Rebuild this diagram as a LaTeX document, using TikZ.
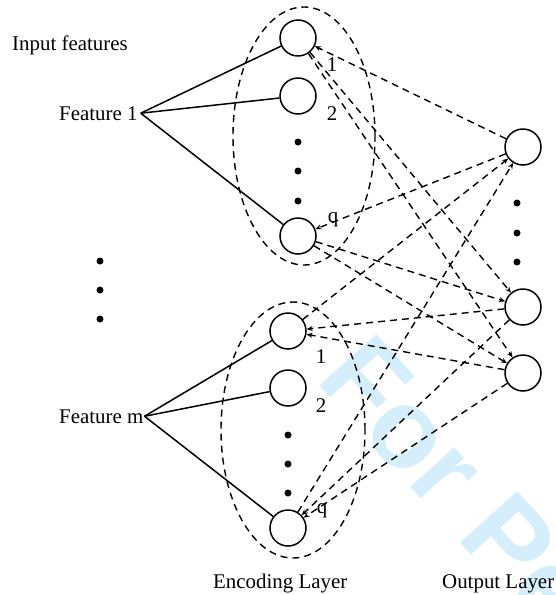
\documentclass[tikz,border=0pt]{standalone}
\usepackage{fontspec}
\setmainfont{Liberation Serif}
\newfontfamily\wmfont{Liberation Sans}
\usetikzlibrary{arrows.meta,shapes.geometric}
\definecolor{wm}{RGB}{212,238,251}
\begin{document}
\begin{tikzpicture}[x=1pt,y=-1pt,
  lbl/.style={inner sep=0pt, font=\fontsize{20.9}{24}\selectfont, anchor=base west},
  num/.style={inner sep=0pt, font=\fontsize{20.9}{24}\selectfont, anchor=base},
  neuron/.style={circle, draw, line width=1.5pt, minimum size=36pt, inner sep=0pt, fill=white},
  dotmark/.style={circle, fill, inner sep=0pt, minimum size=7pt},
  grp/.style={draw, ellipse, line width=1.4pt, dash pattern=on 7pt off 5pt, inner sep=0pt},
  wire/.style={line width=1.5pt},
  link/.style={line width=1.4pt, dash pattern=on 7pt off 5pt, -{Stealth[length=6pt,width=5pt]}},
]
\useasboundingbox (0,0) rectangle (556,595);
% watermark
\begin{scope}
\clip (0,0) rectangle (556,595);
\node[text=wm, font=\wmfont\bfseries\fontsize{112}{112}\selectfont, anchor=base west, inner sep=0pt, rotate=-48] (wmark) at (314,380) {For Peer Review};
\end{scope}

% group outlines
\node[grp, minimum width=142pt, minimum height=258pt] (grpA) at (304,136) {};
\node[grp, minimum width=144pt, minimum height=256pt] (grpB) at (293,430) {};

% texts
\node[lbl] (inp) at (12,50) {Input features};
\node[lbl, inner xsep=3pt] (feat1) at (56,120) {Feature 1};
\node[lbl, inner xsep=1pt] (featm) at (58,423) {Feature m};
\node[lbl] (encl) at (213,588) {Encoding Layer};
\node[lbl] (outl) at (442,588) {Output Layer};

% encoding neurons
\node[neuron] (e1) at (298,38) {};
\node[neuron] (e2) at (298,96) {};
\node[neuron] (eq) at (298,236) {};
\node[neuron] (f1) at (288,331) {};
\node[neuron] (f2) at (288,388) {};
\node[neuron] (fq) at (288,528) {};
% output neurons
\node[neuron] (o1) at (523,147) {};
\node[neuron] (o2) at (523,307) {};
\node[neuron] (o3) at (523,373) {};

% index labels
\node[num] (le1) at (332,71) {1};
\node[num] (le2) at (332,120) {2};
\node[num] (leq) at (333,222) {q};
\node[num] (lf1) at (321,363) {1};
\node[num] (lf2) at (321,412) {2};
\node[num] (lfq) at (322,513) {q};

% dots
\foreach \y [count=\i] in {142,171,201} \node[dotmark] (da\i) at (298,\y) {};
\foreach \y [count=\i] in {435,464,493} \node[dotmark] (db\i) at (288,\y) {};
\foreach \y [count=\i] in {203,233,262} \node[dotmark] (dc\i) at (517,\y) {};
\foreach \y [count=\i] in {261,290,319} \node[dotmark] (dd\i) at (100,\y) {};

% solid input wires
\draw[wire] (feat1.east) -- (e1);
\draw[wire] (feat1.east) -- (e2);
\draw[wire] (feat1.east) -- (eq);
\draw[wire] (featm.east) -- (f1);
\draw[wire] (featm.east) -- (f2);
\draw[wire] (featm.east) -- (fq);

% dashed links
\draw[link] (o1) -- (e1);
\draw[link] (o1) -- (eq);
\draw[link] (e1) -- (o2);
\draw[link] (e1) -- (o3);
\draw[link] (eq) -- (o2);
\draw[link] (eq) -- (o3);
\draw[link] (f1) -- (o1);
\draw[link] (o2) -- (f1);
\draw[link] (o3) -- (f1);
\draw[link] (fq) -- (o1);
\draw[link] (o2) -- (fq);
\draw[link] (o3) -- (fq);
\end{tikzpicture}
\end{document}
